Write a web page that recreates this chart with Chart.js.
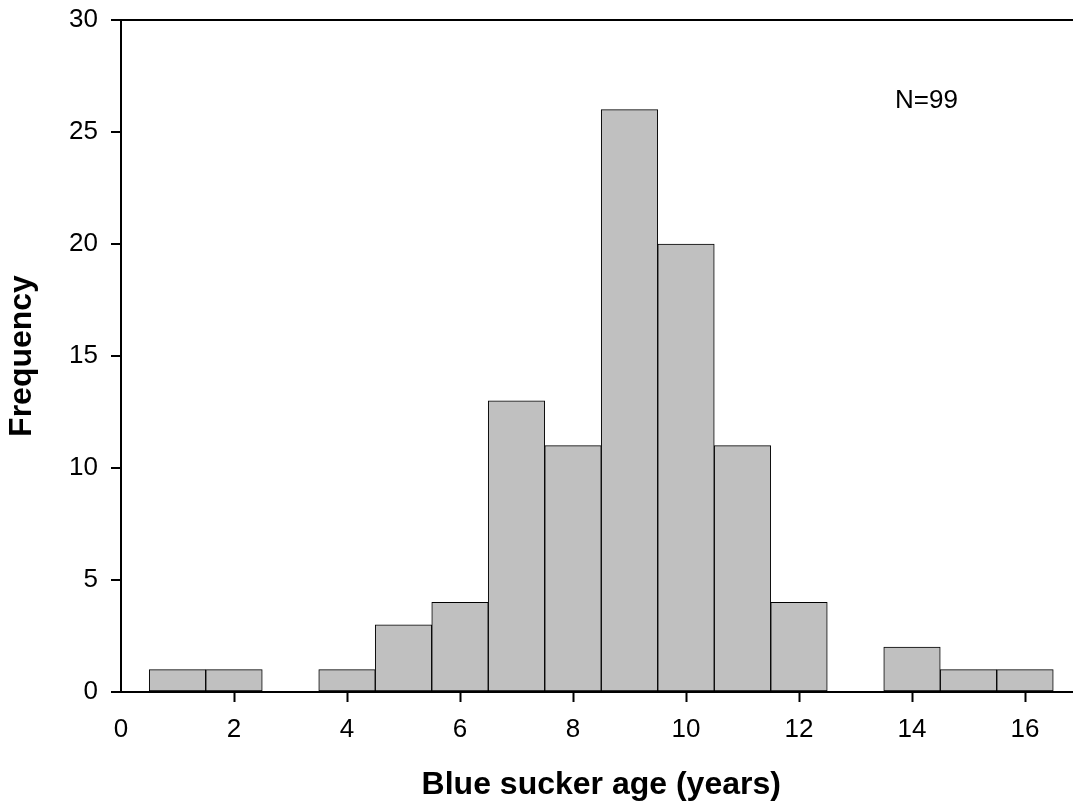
<!DOCTYPE html>
<html>
<head>
<meta charset="utf-8">
<script src="https://cdn.jsdelivr.net/npm/chart.js@4"></script>
<style>
  html, body { margin: 0; padding: 0; background: #fff; overflow: hidden; }
  canvas { display: block; }
</style>
</head>
<body>
<canvas id="myChart" width="1090" height="811"></canvas>
<script>
// dados do histograma
const ages = [1, 2, 3, 4, 5, 6, 7, 8, 9, 10, 11, 12, 13, 14, 15, 16]
const counts = [1, 1, 0, 1, 3, 4, 13, 11, 26, 20, 11, 4, 0, 2, 1, 1]
const xTicks = [0, 2, 4, 6, 8, 10, 12, 14, 16]
const yTicks = [0, 5, 10, 15, 20, 25, 30]
const note = 'N=99'

const FONT = 'Arial, "Liberation Sans", sans-serif'

// texto N=99 no canto
const notePlugin = {
  id: 'note',
  afterDatasetsDraw(chart) {
    const ctx = chart.ctx
    const x = chart.scales.x.getPixelForValue(13.7)
    const y = chart.scales.y.getPixelForValue(26.4)
    ctx.save()
    ctx.font = '26px ' + FONT
    ctx.fillStyle = '#000'
    ctx.textAlign = 'left'
    ctx.textBaseline = 'middle'
    ctx.fillText(note, x, y)
    ctx.restore()
  }
}

const ctx = document.getElementById('myChart').getContext('2d')

new Chart(ctx, {
  type: 'bar',
  data: {
    datasets: [
      {
        data: ages.map((a, i) => ({ x: a, y: counts[i] })),
        backgroundColor: '#c0c0c0',
        borderColor: '#000',
        borderWidth: 1,
        borderSkipped: false,
        barPercentage: 1,
        categoryPercentage: 1
      }
    ]
  },
  options: {
    responsive: false,
    animation: false,
    layout: { padding: { top: 20, right: 8.5, left: 0, bottom: 0 } },
    plugins: {
      legend: { display: false },
      tooltip: { enabled: false }
    },
    scales: {
      x: {
        type: 'linear',
        min: 0,
        max: 17,
        offset: false,
        afterBuildTicks: s => { s.ticks = xTicks.map(v => ({ value: v })) },
        afterFit: s => {
          s.height = 119
          s.paddingLeft = 0
          s.paddingRight = 0
        },
        border: { display: true, color: '#000', width: 2 },
        grid: {
          offset: false,
          drawOnChartArea: false,
          tickLength: 10,
          tickWidth: 2,
          tickColor: c => (c.tick && c.tick.value === 0 ? 'rgba(0,0,0,0)' : '#000')
        },
        ticks: {
          color: '#000',
          padding: 12,
          maxRotation: 0,
          font: { family: FONT, size: 26 }
        },
        title: {
          display: true,
          text: 'Blue sucker age (years)',
          color: '#000',
          padding: { top: 0, bottom: 10 },
          font: { family: FONT, size: 32, weight: 'bold', lineHeight: 1 }
        }
      },
      y: {
        min: 0,
        max: 30,
        afterBuildTicks: s => { s.ticks = yTicks.map(v => ({ value: v })) },
        afterFit: s => {
          s.width = 121
          s.paddingTop = 0
          s.paddingBottom = 0
        },
        border: { display: true, color: '#000', width: 2 },
        grid: {
          drawOnChartArea: true,
          color: c => (c.tick && c.tick.value === 30 ? '#000' : 'rgba(0,0,0,0)'),
          lineWidth: 2,
          tickLength: 10,
          tickWidth: 2,
          tickColor: '#000'
        },
        ticks: {
          color: '#000',
          padding: 13,
          font: { family: FONT, size: 26 }
        },
        title: {
          display: true,
          text: 'Frequency',
          color: '#000',
          padding: { top: 6, bottom: 0 },
          font: { family: FONT, size: 32, weight: 'bold', lineHeight: 1 }
        }
      }
    }
  },
  plugins: [notePlugin]
})
</script>
</body>
</html>
